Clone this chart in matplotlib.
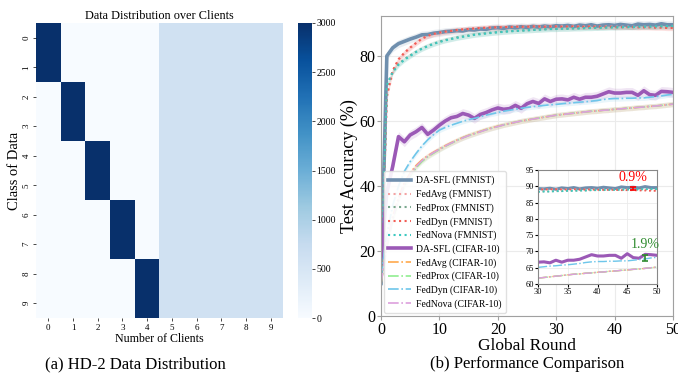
import numpy as np
import matplotlib
matplotlib.use("Agg")
import matplotlib.pyplot as plt
import seaborn as sns

plt.rcParams['font.family'] = ['Liberation Serif', 'DejaVu Serif']

# ---------------- Heatmap data ----------------
classes = list(range(10))
clients = list(range(10))
dominant_count = 3000
shared_count = 600
# client j (0-4) holds classes 2j, 2j+1 ; clients 5-9 hold all classes equally
heat = np.zeros((10, 10))
for j in range(5):
    heat[2 * j, j] = dominant_count
    heat[2 * j + 1, j] = dominant_count
for j in range(5, 10):
    heat[:, j] = shared_count

# ---------------- Curve data ----------------
rounds = list(range(51))

dasfl_fmnist = [10, 80, 82.5, 83.8, 84.5, 85.2, 85.8, 86.5, 86.6, 87.0, 87.2, 87.5, 87.6, 87.8,
                87.7, 88.1, 88.0, 88.3, 88.2, 88.6, 88.7, 88.5, 88.9, 88.7, 89.0, 88.8, 89.1, 88.9,
                89.2, 89.0, 89.3, 89.2, 89.4, 89.1, 89.5, 89.3, 89.6, 89.2, 89.5, 89.6, 89.4, 89.7,
                89.5, 89.3, 89.8, 89.6, 89.7, 89.5, 89.9, 89.6, 89.6]
fedavg_fmnist = [10, 67, 75.0, 78.8, 80.8, 82.4, 83.9, 85.2, 86.1, 86.7, 87.1, 87.4, 87.7, 87.9,
                 88.1, 88.3, 88.4, 88.6, 88.7, 88.7, 88.8, 88.9, 88.9, 89.0, 89.0, 89.0, 89.1, 89.0,
                 89.1, 89.1, 89.1, 89.1, 89.0, 89.1, 89.1, 89.0, 89.1, 89.0, 89.0, 89.1, 89.0, 89.0,
                 89.0, 89.0, 88.9, 89.0, 88.9, 88.9, 88.9, 88.8, 88.7]
fedprox_fmnist = [10, 71, 75.2, 77.5, 79.0, 80.2, 81.3, 82.3, 83.1, 83.8, 84.4, 84.9, 85.3, 85.7,
                  86.0, 86.3, 86.6, 86.8, 87.0, 87.2, 87.3, 87.5, 87.6, 87.7, 87.8, 87.9, 88.0, 88.1,
                  88.2, 88.3, 88.3, 88.4, 88.4, 88.5, 88.5, 88.6, 88.6, 88.7, 88.7, 88.8, 88.8, 88.8,
                  88.9, 88.9, 88.9, 89.0, 89.0, 89.0, 89.1, 89.1, 89.1]
feddyn_fmnist = [10, 68, 75.5, 79.0, 81.0, 82.6, 84.0, 85.3, 86.2, 86.8, 87.2, 87.5, 87.7, 88.0,
                 88.2, 88.3, 88.5, 88.6, 88.7, 88.8, 88.8, 88.9, 88.9, 89.0, 89.0, 89.0, 89.1, 89.1,
                 89.0, 89.1, 89.1, 89.0, 89.1, 89.1, 89.0, 89.0, 89.1, 89.0, 89.0, 89.0, 88.9, 88.9,
                 88.9, 88.9, 88.8, 88.8, 88.8, 88.7, 88.7, 88.6, 88.6]
fednova_fmnist = [10, 71, 75.0, 77.3, 78.8, 80.0, 81.2, 82.2, 83.0, 83.7, 84.3, 84.8, 85.2, 85.6,
                  85.9, 86.2, 86.5, 86.7, 86.9, 87.1, 87.3, 87.4, 87.6, 87.7, 87.8, 87.9, 88.0, 88.1,
                  88.2, 88.3, 88.3, 88.4, 88.4, 88.5, 88.5, 88.6, 88.6, 88.7, 88.7, 88.8, 88.8, 88.9,
                  88.9, 88.9, 89.0, 89.0, 89.0, 89.1, 89.1, 89.2, 89.2]

dasfl_cifar = [18, 38, 46, 55.2, 53.6, 55.7, 56.7, 58.0, 55.9, 57.2, 58.7, 60.0, 61.0, 61.4, 62.3,
               61.8, 60.8, 62.0, 62.6, 63.4, 64.0, 63.6, 63.8, 64.8, 63.9, 65.3, 66.0, 65.4, 66.8,
               66.0, 66.7, 66.8, 66.5, 67.3, 66.7, 67.3, 67.3, 67.6, 68.3, 69.0, 68.6, 68.6, 68.8,
               68.8, 67.9, 69.3, 68.1, 67.9, 69.1, 69.0, 68.8]
fedavg_cifar = [10, 22, 30.5, 36.5, 41.0, 44.0, 46.3, 48.0, 49.3, 50.4, 51.4, 52.4, 53.3, 54.1,
                54.9, 55.6, 56.2, 56.8, 57.4, 57.9, 58.4, 58.8, 59.2, 59.6, 60.0, 60.3, 60.6, 60.9,
                61.2, 61.5, 61.8, 62.0, 62.2, 62.4, 62.6, 62.8, 63.0, 63.1, 63.3, 63.4, 63.6, 63.7,
                63.9, 64.0, 64.2, 64.3, 64.5, 64.6, 64.8, 65.0, 65.2]
fedprox_cifar = [10, 21, 29.5, 35.5, 40.0, 43.0, 45.6, 47.5, 49.0, 50.1, 51.2, 52.2, 53.1, 54.0,
                 54.8, 55.5, 56.1, 56.7, 57.3, 57.8, 58.3, 58.8, 59.2, 59.6, 60.0, 60.3, 60.6, 60.9,
                 61.2, 61.5, 61.8, 62.0, 62.2, 62.4, 62.6, 62.8, 63.0, 63.1, 63.3, 63.4, 63.6, 63.7,
                 63.9, 64.0, 64.2, 64.3, 64.5, 64.6, 64.8, 65.0, 65.2]
feddyn_cifar = [12, 25, 34, 40, 44.5, 47.5, 50.0, 52.3, 54.2, 55.8, 57.2, 58.0, 58.7, 59.3, 59.9,
                60.4, 60.8, 61.3, 61.8, 62.2, 62.6, 63.0, 63.3, 63.6, 63.9, 64.2, 64.4, 64.6, 64.8,
                65.0, 65.1, 65.3, 65.5, 65.6, 65.8, 65.9, 66.1, 66.3, 66.6, 66.8, 66.9, 66.9, 67.0,
                67.0, 67.1, 67.1, 67.3, 67.5, 67.7, 68.0, 68.2]
fednova_cifar = [10, 22, 30, 36, 40.5, 43.5, 46.0, 47.8, 49.2, 50.3, 51.3, 52.3, 53.2, 54.0,
                 54.8, 55.5, 56.1, 56.7, 57.3, 57.8, 58.3, 58.8, 59.2, 59.6, 60.0, 60.3, 60.6, 60.9,
                 61.2, 61.5, 61.8, 62.0, 62.2, 62.4, 62.6, 62.8, 63.0, 63.1, 63.3, 63.4, 63.6, 63.7,
                 63.9, 64.0, 64.2, 64.3, 64.5, 64.6, 64.8, 65.0, 65.2]

series = [
    ("DA-SFL (FMNIST)", dasfl_fmnist, "#6f8fae", "-", 2.6, 1.2),
    ("FedAvg (FMNIST)", fedavg_fmnist, "#f4a3a3", ":", 1.5, 0.8),
    ("FedProx (FMNIST)", fedprox_fmnist, "#7aa88e", ":", 1.5, 0.8),
    ("FedDyn (FMNIST)", feddyn_fmnist, "#f25c54", ":", 1.5, 0.8),
    ("FedNova (FMNIST)", fednova_fmnist, "#3cc8c0", ":", 1.5, 0.8),
    ("DA-SFL (CIFAR-10)", dasfl_cifar, "#9b59b6", "-", 2.6, 1.5),
    ("FedAvg (CIFAR-10)", fedavg_cifar, "#ffa94d", "-.", 1.2, 0.8),
    ("FedProx (CIFAR-10)", fedprox_cifar, "#90ee90", "-.", 1.2, 0.8),
    ("FedDyn (CIFAR-10)", feddyn_cifar, "#6ec6ea", "-.", 1.2, 0.8),
    ("FedNova (CIFAR-10)", fednova_cifar, "#dda0dd", "-.", 1.2, 0.8),
]

gap_fmnist = dict(x=46, lo=88.8, hi=89.7, text="0.9%", color="red")
gap_cifar = dict(x=48, lo=67.1, hi=69.0, text="1.9%", color="#2e8b2e")

# ---------------- Figure ----------------
W, H = 678, 379
fig = plt.figure(figsize=(W / 100, H / 100), dpi=100)

def fax(x0, y0, x1, y1):
    return [x0 / W, 1 - y1 / H, (x1 - x0) / W, (y1 - y0) / H]

# Heatmap
axh = fig.add_axes(fax(36, 23, 283, 318))
cax = fig.add_axes(fax(298, 23, 312, 318))
sns.heatmap(heat, cmap="Blues", vmin=0, vmax=3000, ax=axh, cbar_ax=cax,
            xticklabels=clients, yticklabels=classes)
axh.set_title("Data Distribution over Clients", fontsize=8.8, pad=3)
axh.set_xlabel("Number of Clients", fontsize=8.6, labelpad=1)
axh.set_ylabel("Class of Data", fontsize=10.5, labelpad=1)
axh.tick_params(axis='both', labelsize=6.5, length=2, width=0.5, pad=2)
plt.setp(axh.get_yticklabels(), rotation=90, va='center')
plt.setp(axh.get_xticklabels(), rotation=0)
cax.tick_params(labelsize=7, length=2, width=0.5, pad=1)
cax.set_yticks([0, 500, 1000, 1500, 2000, 2500, 3000])

# Performance plot
ax = fig.add_axes(fax(381, 16, 673, 316))
for label, vals, color, ls, lw, band in series:
    v = np.array(vals, dtype=float)
    ax.fill_between(rounds, v - band, v + band, color=color, alpha=0.15, lw=0)
    ax.plot(rounds, v, ls, color=color, lw=lw, label=label)
ax.set_xlim(0, 50)
ax.set_ylim(0, 92.3)
ax.set_xticks([0, 10, 20, 30, 40, 50])
ax.set_yticks([0, 20, 40, 60, 80])
ax.grid(True, color="#ebebeb", lw=0.8)
ax.set_axisbelow(True)
for s in ax.spines.values():
    s.set_color("#a0a0a0")
ax.tick_params(labelsize=11.5, length=3, color="#a0a0a0", pad=1)
ax.set_xlabel("Global Round", fontsize=12.5, labelpad=0)
ax.set_ylabel("Test Accuracy (%)", fontsize=13, labelpad=1)
leg = ax.legend(loc="lower left", bbox_to_anchor=(0.0, 0.0), fontsize=7,
                frameon=True, borderaxespad=0.3, handlelength=2.3, labelspacing=0.42,
                borderpad=0.45, handletextpad=0.6)
leg.get_frame().set_edgecolor("#dddddd")
leg.get_frame().set_alpha(0.9)

# Inset
axi = fig.add_axes(fax(538, 170, 657, 284))
for label, vals, color, ls, lw, band in series:
    v = np.array(vals, dtype=float)
    axi.plot(rounds, v, ls, color=color, lw=lw * 0.85)
axi.set_xlim(30, 50)
axi.set_ylim(60, 95)
axi.set_xticks([30, 35, 40, 45, 50])
axi.set_yticks([60, 65, 70, 75, 80, 85, 90, 95])
axi.grid(True, color="#ebebeb", lw=0.6)
axi.set_axisbelow(True)
for s in axi.spines.values():
    s.set_color("#888888")
axi.tick_params(labelsize=6, length=2, pad=1)
for g in (gap_fmnist, gap_cifar):
    axi.errorbar([g["x"]], [(g["lo"] + g["hi"]) / 2], yerr=[[(g["hi"] - g["lo"]) / 2]],
                 color=g["color"], capsize=2, lw=1.2, capthick=1.2)
    axi.text(g["x"], g["hi"] + 1.0, g["text"], color=g["color"], fontsize=10,
             ha="center", va="bottom")

# Captions
fig.text(135 / W, 1 - 364 / H, "(a) HD-2 Data Distribution", fontsize=12, ha="center", va="center")
fig.text(527 / W, 1 - 364 / H, "(b) Performance Comparison", fontsize=12, ha="center", va="center")

fig.savefig("out.png", dpi=100)
